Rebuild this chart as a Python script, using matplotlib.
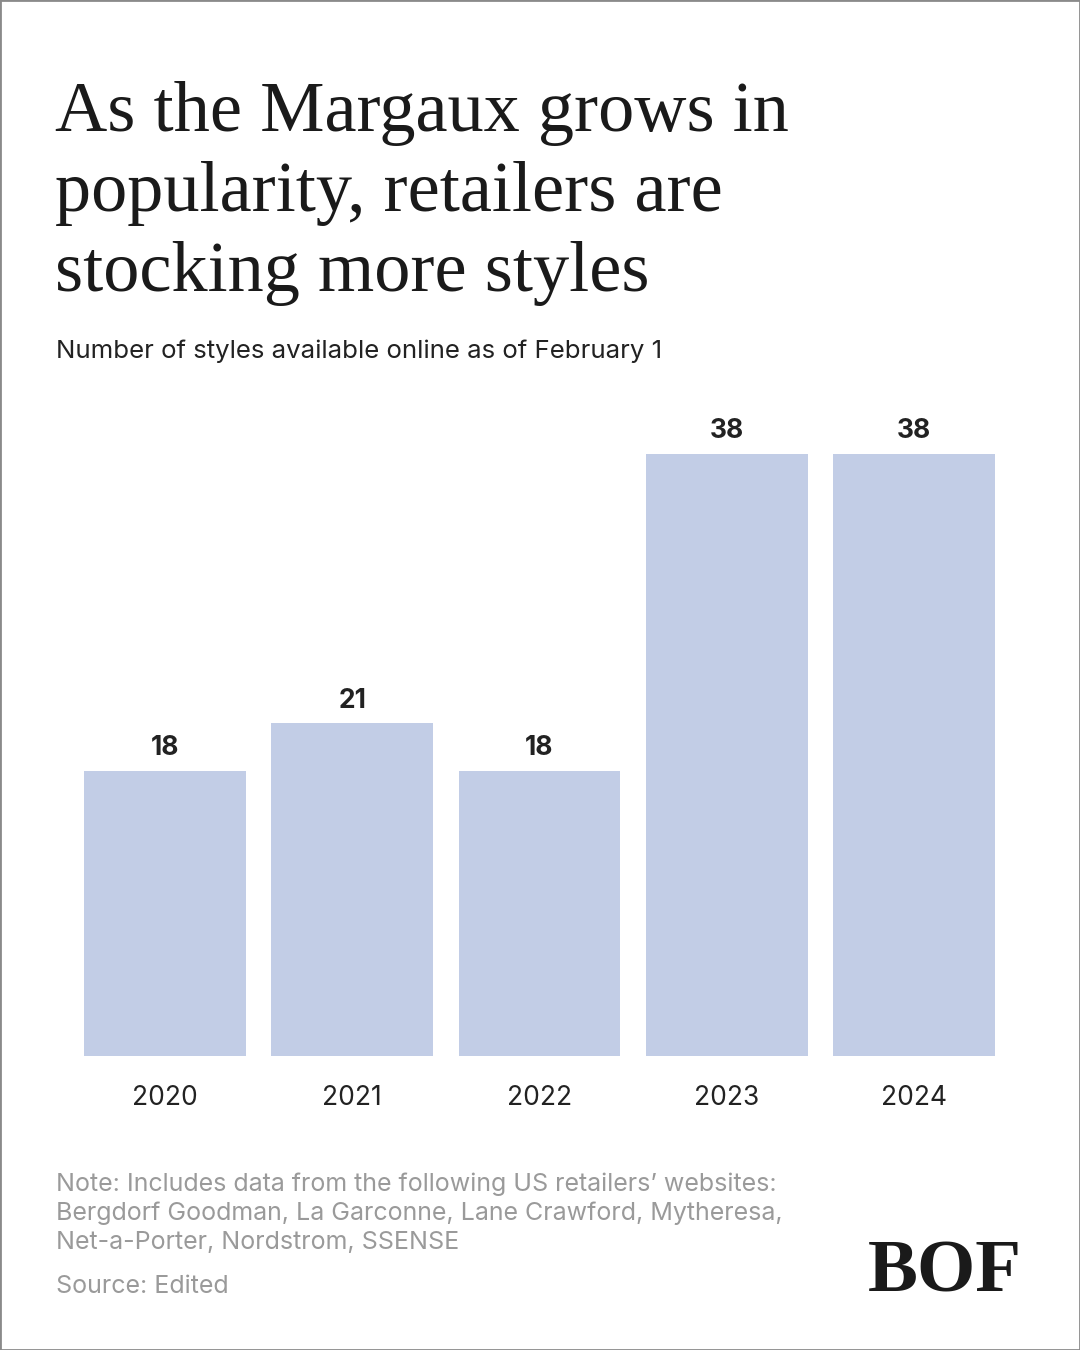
import matplotlib
matplotlib.use("Agg")
import matplotlib.pyplot as plt
from matplotlib.patches import Rectangle

years = ["2020", "2021", "2022", "2023", "2024"]
styles = [18, 21, 18, 38, 38]

title_lines = ["As the Margaux grows in", "popularity, retailers are", "stocking more styles"]
subtitle = "Number of styles available online as of February 1"
note_lines = [
    "Note: Includes data from the following US retailers\u2019 websites:",
    "Bergdorf Goodman, La Garconne, Lane Crawford, Mytheresa,",
    "Net-a-Porter, Nordstrom, SSENSE",
]
source = "Source: Edited"

SANS = "Inter"
W, H = 1080, 1350
fig = plt.figure(figsize=(W / 100, H / 100), dpi=100)
fig.patch.set_facecolor("white")

def fx(px):
    return px / W

def fy(py):
    return 1 - py / H

bar_w = 0.865
ax = fig.add_axes([fx(84), fy(1056), fx(995 - 84), (1056 - 454) / H])
x = list(range(len(years)))
ax.bar(x, styles, width=bar_w, color="#c2cde6", edgecolor="none")
ax.set_xlim(-bar_w / 2, len(years) - 1 + bar_w / 2)
ax.set_ylim(0, max(styles))
for s in ax.spines.values():
    s.set_visible(False)
ax.set_yticks([])
ax.set_xticks(x)
ax.set_xticklabels(years, fontsize=19, fontfamily=SANS, color="#222222")
ax.tick_params(axis="x", length=0, pad=21)
for xi, v in zip(x, styles):
    ax.annotate(str(v), (xi, v), xytext=(0, 7), textcoords="offset points",
                ha="center", va="bottom", fontsize=19, fontweight="bold",
                fontfamily=SANS, color="#222222", annotation_clip=False)

for i, line in enumerate(title_lines):
    fig.text(fx(55), fy(131 + 80 * i), line, fontsize=52, fontfamily="Liberation Serif",
             color="#1a1a1a", va="baseline", ha="left")
fig.text(fx(56), fy(358), subtitle, fontsize=18.6, fontfamily=SANS,
         color="#222222", va="baseline", ha="left")
for i, line in enumerate(note_lines):
    fig.text(fx(56), fy(1191 + 29 * i), line, fontsize=18, fontfamily=SANS,
             color="#9a9a9a", va="baseline", ha="left")
fig.text(fx(56), fy(1293), source, fontsize=18, fontfamily=SANS,
         color="#9a9a9a", va="baseline", ha="left")

fig.text(fx(1022), fy(1292), "BOF", fontsize=54, fontfamily="Liberation Serif",
         fontweight="bold", color="#1a1a1a", va="baseline", ha="right")

fig.patches.append(Rectangle((0, 0), 1, 1, transform=fig.transFigure,
                             fill=False, edgecolor="#8a8a8a", linewidth=2))

fig.savefig("out.png", dpi=100, facecolor="white")
